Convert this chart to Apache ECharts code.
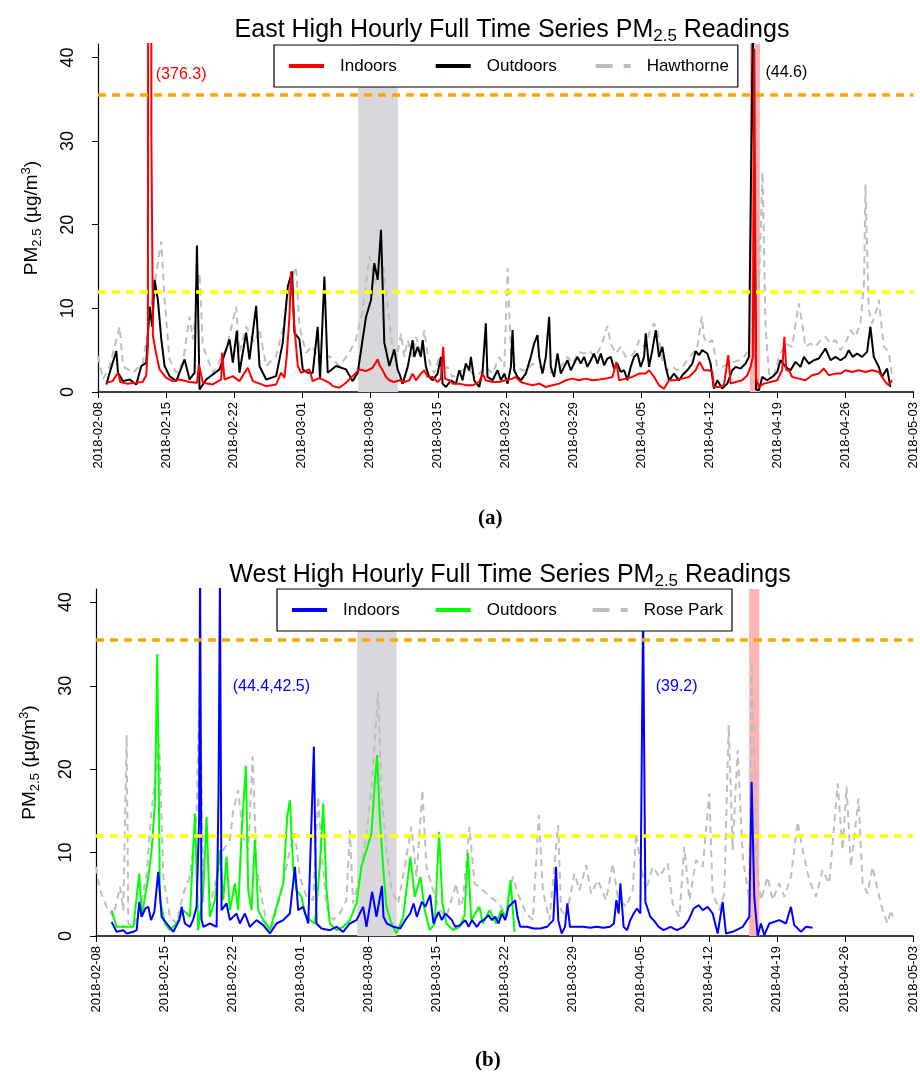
<!DOCTYPE html>
<html>
<head>
<meta charset="utf-8">
<title>PM2.5 hourly time series</title>
<script src="https://cdn.jsdelivr.net/npm/echarts@6.0.0/dist/echarts.min.js"></script>
<style>
  body { margin: 0; background: #fff; }
  #main { width: 920px; height: 1075px; }
</style>
</head>
<body>
<div id="main"></div>
<script>
// x = days since 2018-02-08 00:00, y = PM2.5 (ug/m3)
var dateLabels = ['2018-02-08','2018-02-15','2018-02-22','2018-03-01','2018-03-08','2018-03-15',
  '2018-03-22','2018-03-29','2018-04-05','2018-04-12','2018-04-19','2018-04-26','2018-05-03'];
var yTicks = [0, 10, 20, 30, 40];
var thresholds = [35.5, 12];
var grayWindowA = [26.8, 30.9], pinkWindowA = [67.15, 68.18];
var grayWindowB = [26.85, 30.9], pinkWindowB = [67.15, 68.2];

var eastIndoors = [[0.86,1.1],[1.5,1.3],[2.06,2.3],[2.3,1.2],[3.0,1.0],[3.9,1.1],[4.6,1.2],[4.97,2.0],[5.14,5.5],[5.35,376.3],[5.5,30],[5.66,6.7],[6.0,4.5],[6.34,2.7],[7.03,1.7],[7.72,1.3],[8.4,1.5],[9.4,1.2],[10.2,1.1],[10.39,3.3],[10.8,1.1],[11.83,0.9],[12.69,1.5],[12.79,4.7],[13.03,1.5],[13.89,1.9],[14.57,1.3],[15.43,2.9],[15.95,1.3],[17.32,0.7],[18.35,0.9],[18.86,2.3],[19.2,1.7],[19.44,4.3],[19.72,9.0],[19.89,14.4],[20.06,14.4],[20.23,7.8],[20.58,3.1],[20.92,2.3],[21.78,2.7],[22.12,1.3],[22.81,1.7],[23.83,1.1],[24.18,0.7],[24.86,0.5],[25.55,1.1],[26.23,1.9],[26.92,2.7],[27.61,2.5],[28.29,2.9],[28.81,3.9],
  [29.0,3.2],[29.32,2.6],[29.67,1.8],[30.01,1.4],[30.5,1.2],[31.04,1.4],[31.55,1.2],[32.07,1.4],[32.41,2.2],[32.75,1.4],[33.26,2.2],[33.61,2.6],[33.95,1.8],[34.47,1.8],[34.98,1.2],[35.32,1.6],[35.56,5.4],[35.73,1.6],[36.18,1.4],[36.52,1.0],[37.21,1.0],[37.89,0.8],[38.58,0.8],[39.27,1.2],[39.61,2.2],[39.95,1.4],[40.64,1.2],[41.33,1.2],[42.01,1.4],[42.7,1.6],[43.04,1.8],[43.55,1.2],[44.07,1.0],[44.75,0.8],[45.44,1.0],[46.13,0.6],[46.81,0.8],[47.5,1.0],[48.18,1.4],[48.87,1.6],[49.56,1.4],[50.24,1.6],[50.93,1.4],[51.62,1.5],[52.3,1.6],[52.99,1.8],[53.4,3.6],[53.67,1.4],[54.36,1.6],[55.04,1.8],[55.73,2.2],[56.42,2.2],
  [56.76,2.6],[57.28,1.8],[57.79,0.8],[58.3,0.4],[58.82,1.4],[59.51,1.4],[60.19,1.6],[60.87,1.8],[61.56,2.6],[61.97,3.6],[62.41,2.6],[62.93,2.6],[63.27,2.4],[63.44,0.6],[63.96,0.6],[64.47,0.8],[64.92,4.4],[65.16,1.0],[65.68,1.2],[66.36,1.4],[66.88,2.0],[67.22,3.0],[67.45,4.2],[67.6,41],[67.78,1.6],[68.08,0.6],[68.59,1.0],[69.28,1.2],[69.96,1.4],[70.47,2.6],[70.7,6.6],[70.9,2.6],[71.16,2.6],[71.5,1.8],[72.19,1.6],[72.87,1.4],[73.56,2.0],[74.25,2.2],[74.76,2.8],[75.28,2.0],[75.96,2.2],[76.48,2.2],[77.0,2.6],[77.68,2.4],[78.36,2.6],[79.05,2.4],[79.74,2.6],[80.42,2.4],[81.11,1.2],[81.45,0.8],[81.79,1.4]];

var eastOutdoors = [[0.86,0.9],[1.2,2.3],[1.89,4.9],[2.06,2.3],[2.57,1.3],[3.26,1.5],[3.94,0.9],[4.46,3.1],[4.97,3.5],[5.32,10.2],[5.59,7.8],[5.83,13.4],[6.17,11.0],[6.52,6.3],[6.86,3.1],[7.37,1.9],[8.06,1.3],[8.92,3.9],[9.43,1.5],[9.95,2.3],[10.19,17.5],[10.46,0.3],[11.15,1.5],[12.52,2.7],[13.55,6.3],[13.89,3.5],[14.3,7.3],[14.57,2.3],[15.26,7.1],[15.6,3.9],[16.29,10.3],[16.63,3.1],[17.32,1.5],[18.35,1.9],[19.03,5.9],[19.55,12.6],[19.99,14.4],[20.23,7.1],[20.75,6.3],[21.09,2.7],[21.6,2.3],[22.12,2.3],[22.63,7.8],[22.87,1.5],[23.32,13.8],[23.66,2.3],[24.52,3.1],[25.55,2.7],[26.23,1.3],[26.75,2.3],[27.26,6.3],[27.61,9.0],[28.12,11.0],[28.46,15.4],[28.81,13.4],[29.15,19.4],[29.49,5.9],[30.01,3.1],[30.52,5.1],[30.86,2.7],
  [31.04,2.2],[31.38,1.0],[31.9,3.0],[32.41,6.2],[32.58,4.2],[32.92,5.4],[33.26,4.2],[33.44,6.2],[33.78,3.0],[34.12,1.8],[34.47,1.4],[34.98,2.2],[35.32,4.2],[35.49,1.0],[35.84,0.6],[36.35,1.4],[36.87,1.0],[37.21,2.6],[37.55,1.4],[37.89,3.4],[38.24,2.6],[38.41,4.2],[38.75,1.4],[39.27,0.6],[39.61,2.4],[39.95,8.2],[40.12,1.8],[40.64,1.4],[41.16,2.6],[41.5,1.4],[41.85,2.2],[42.19,1.0],[42.53,3.0],[42.7,7.4],[42.87,2.6],[43.21,1.8],[43.55,1.4],[44.07,2.2],[44.58,4.2],[44.93,5.8],[45.27,6.8],[45.44,4.2],[45.78,2.2],[46.13,4.2],[46.47,9.0],[46.64,3.0],[46.98,1.8],[47.33,4.6],[47.67,2.2],[48.01,3.0],[48.36,3.8],[48.7,2.6],[49.04,3.4],[49.38,4.2],[49.73,3.4],[50.07,4.2],[50.41,3.0],[50.76,3.8],[51.1,4.6],[51.44,3.4],[51.79,4.6],[52.13,3.2],[52.47,4.0],[52.81,4.2],[53.16,2.8],[53.5,3.4],[53.84,2.4],[54.19,2.6],[54.53,1.4],[54.87,3.0],[55.22,4.2],[55.56,4.6],[55.9,3.0],[56.25,4.2],[56.42,7.0],
  [56.76,3.0],[57.1,5.0],[57.45,7.4],[57.79,4.2],[58.13,5.4],[58.48,3.0],[58.82,1.4],[59.33,2.2],[59.85,1.4],[60.19,2.0],[60.7,2.6],[61.22,3.4],[61.56,4.9],[61.9,4.4],[62.24,5.0],[62.76,4.6],[63.1,3.4],[63.44,0.4],[63.79,1.4],[64.3,0.4],[64.82,1.0],[65.33,2.6],[65.68,3.0],[66.19,2.8],[66.71,3.4],[67.05,4.2],[67.45,44.6],[67.79,0.3],[68.08,0.2],[68.42,1.8],[68.93,1.4],[69.45,1.8],[69.96,2.4],[70.3,3.8],[70.82,3.0],[71.33,2.6],[71.85,3.6],[72.36,3.0],[72.71,4.2],[73.22,3.4],[73.73,3.8],[74.25,4.0],[74.59,4.6],[74.93,5.2],[75.45,3.8],[75.96,4.2],[76.48,3.8],[76.99,4.2],[77.33,5.0],[77.74,4.2],[78.19,4.6],[78.7,4.2],[79.22,4.8],[79.56,7.8],[79.91,4.2],[80.42,3.0],[80.76,1.8],[81.28,2.8],[81.62,0.6]];

var hawthorne = [[0,4.3],[0.51,1.5],[1.2,3.1],[2.23,7.8],[2.57,3.1],[3.6,2.3],[4.63,3.5],[5.32,9.0],[6.0,14.2],[6.52,18.0],[6.86,11.0],[7.37,3.9],[8.06,2.3],[8.74,3.5],[9.43,9.0],[9.77,6.3],[10.46,14.2],[10.8,5.5],[11.83,2.3],[13.2,5.1],[14.23,10.2],[14.57,4.7],[15.26,7.8],[16.12,5.9],[16.63,7.5],[17.32,3.1],[18.35,4.3],[19.03,7.5],[19.72,13.0],[20.4,15.0],[20.75,7.8],[21.43,4.7],[22.12,5.5],[22.81,3.5],[23.83,4.3],[24.86,3.1],[25.89,4.7],[26.58,6.3],[27.26,9.8],[27.95,16.2],[28.64,13.0],[29.32,15.8],[29.84,10.2],[30.35,5.1],[30.8,4.3],
  [31.21,7.0],[31.55,4.2],[31.9,6.2],[32.41,4.2],[32.75,6.6],[33.26,4.6],[33.61,7.4],[33.95,4.6],[34.3,3.0],[34.64,2.2],[35.15,4.2],[35.49,2.6],[36.0,3.0],[36.52,1.8],[37.21,2.2],[37.89,3.0],[38.58,2.2],[39.27,2.2],[39.95,3.0],[40.64,2.2],[41.33,4.2],[41.85,3.0],[42.2,14.8],[42.53,4.2],[43.04,3.0],[43.73,2.6],[44.24,2.6],[44.75,3.4],[45.44,3.0],[46.13,2.6],[46.81,2.2],[47.67,3.0],[48.36,4.2],[48.87,3.4],[49.56,4.8],[50.07,4.6],[50.59,5.0],[51.1,4.2],[51.62,5.0],[52.04,6.2],[52.47,7.9],[52.81,5.8],[53.33,4.6],[53.84,5.4],[54.36,4.2],[54.87,4.2],[55.39,5.0],[55.73,6.2],[56.25,5.4],[56.59,6.2],
  [56.76,7.0],[57.28,8.2],[57.62,7.4],[58.13,3.8],[58.65,2.6],[59.16,3.0],[59.68,2.6],[60.19,3.0],[60.7,3.8],[61.22,4.6],[61.73,5.4],[62.2,9.0],[62.41,6.6],[62.76,5.8],[63.27,6.2],[63.79,3.0],[64.3,3.0],[64.99,3.4],[65.5,3.6],[66.02,3.8],[66.53,4.2],[67.05,5.0],[67.38,8],[67.7,40],[68.06,12],[68.45,26.3],[68.75,8],[69.11,2.2],[69.62,1.8],[70.13,4.2],[70.82,5.8],[71.5,5.4],[72.19,10.6],[72.53,8.2],[72.87,5.4],[73.39,5.8],[73.9,5.4],[74.42,6.2],[74.93,6.6],[75.45,5.8],[75.96,6.2],[76.48,5.0],[76.99,5.8],[77.51,7.4],[78.02,6.6],[78.53,8.2],[78.9,13],[79.05,24.8],[79.39,9.8],[79.74,8.2],[80.25,10.0],[80.42,11.0],[80.94,5.4],[81.45,4.8],[81.79,2.0]];

var westIndoors = [[1.61,1.7],[2.12,0.5],[2.81,0.7],[3.15,0.3],[3.84,0.5],[4.18,0.7],[4.45,4.1],[4.69,2.3],[5.07,3.3],[5.38,3.5],[5.66,1.9],[6.0,2.9],[6.4,7.7],[6.75,2.3],[7.26,1.5],[7.95,0.5],[8.57,1.9],[8.8,3.5],[9.14,1.5],[9.66,1.1],[10.0,2.0],[10.34,3.5],[10.6,14],[10.7,44.4],[10.85,2],[11.03,1.1],[11.71,1.5],[12.4,1.1],[12.6,17.3],[12.74,42.5],[12.91,3.1],[13.42,3.9],[13.77,1.9],[14.45,2.7],[14.79,1.5],[15.31,2.7],[15.82,1.1],[16.51,1.9],[17.19,1.3],[17.88,0.3],[18.56,1.5],[19.25,1.9],[19.93,2.7],[20.45,8.3],[20.79,3.1],[21.3,3.5],[21.82,1.5],[22.4,22.7],[22.67,1.5],[23.18,0.9],[24.04,0.7],[24.73,1.1],[25.41,0.5],[26.1,1.5],[26.78,1.9],[27.47,3.5],[27.81,1.1],[28.39,5.3],[28.84,2.3],
  [29.4,6.0],[29.56,2.3],[29.9,1.5],[30.59,1.1],[31.28,0.9],[31.79,1.9],[32.3,2.7],[32.65,3.9],[32.99,2.3],[33.5,4.1],[33.85,3.5],[34.36,4.9],[34.7,1.5],[35.22,2.9],[35.56,1.9],[35.9,2.7],[36.25,2.3],[36.59,1.9],[36.93,1.1],[37.45,1.3],[37.96,1.9],[38.31,1.1],[38.65,1.9],[39.16,1.1],[39.51,1.7],[39.85,1.9],[40.36,2.5],[40.7,1.9],[41.05,2.3],[41.39,1.5],[41.73,2.7],[42.07,1.9],[42.42,3.5],[42.76,3.9],[43.1,4.3],[43.34,2.3],[43.62,1.1],[44.31,1.1],[44.99,0.9],[45.68,0.9],[46.37,1.1],[47.02,1.9],[47.3,8.3],[47.53,1.9],[47.88,0.3],[48.22,1.1],[48.46,3.9],[48.73,1.1],[49.42,1.1],[50.1,1.1],[50.79,1.0],[51.48,1.1],[52.16,1.0],[52.85,1.1],[53.25,1.5],[53.5,4.3],[53.74,2.7],[53.91,6.3],[54.25,1.1],[54.6,0.7],[54.94,1.9],[55.28,2.7],[55.62,3.3],[55.97,2.7],[56.25,39.2],[56.48,4.1],[56.65,3.5],[56.99,2.3],[57.33,1.9],[57.85,1.1],[58.36,0.7],[59.05,1.1],[59.73,0.7],[60.42,1.1],[60.93,1.9],[61.45,3.3],[61.97,3.7],
  [62.38,3.1],[62.89,3.5],[63.4,2.7],[63.92,0.3],[64.43,4.1],[64.77,0.3],[65.46,0.5],[66.49,1.1],[67.17,2.3],[67.41,18.5],[67.68,4.7],[68.03,0],[68.37,1.5],[68.71,0.1],[69.23,1.5],[70.25,1.9],[70.94,1.5],[71.45,3.5],[71.79,1.3],[72.48,0.5],[72.99,1.1],[73.68,1.0]];

var westOutdoors = [[1.61,3.1],[2.12,1.1],[3.15,1.1],[3.84,1.1],[4.45,7.5],[4.69,2.3],[5.38,7.1],[5.72,10.3],[6.06,16],[6.3,33.8],[6.58,4.3],[7.09,1.5],[7.6,0.7],[8.29,1.5],[8.97,3.1],[9.66,2.3],[10.17,14.7],[10.51,0.7],[11.03,5.5],[11.37,14.3],[11.71,2.3],[12.23,4.3],[12.74,10.3],[13.08,4.3],[13.42,9.5],[13.77,3.1],[14.28,6.3],[14.62,3.1],[14.97,12.3],[15.41,20.4],[15.65,5.5],[15.99,3.1],[16.34,11.5],[16.68,3.1],[17.19,1.9],[17.88,0.7],[18.56,3.5],[19.25,6.3],[19.66,14.3],[19.93,16.3],[20.27,8.3],[20.62,5.5],[21.13,4.7],[21.47,2.7],[21.99,1.9],[22.5,1.5],[23.01,8.3],[23.36,15.9],[23.7,5.5],[24.04,1.5],[24.73,0.7],[25.41,1.1],[26.1,1.9],[26.78,3.9],[27.29,8.3],[27.81,10.3],[28.32,12.3],[28.66,18.3],[28.9,21.7],[29.18,14.3],[29.52,8.3],[29.86,3.5],[30.38,1.5],[30.89,0.3],[31.58,2.3],[32.33,9.5],[32.77,4.7],[33.36,7.1],[33.8,3.1],[34.32,0.7],[34.83,1.5],[35.27,12.5],[35.62,3.9],[36.03,1.5],[36.71,0.7],[37.4,1.1],
  [37.89,2.5],[38.23,10.0],[38.58,1.9],[39.43,3.5],[39.77,1.5],[40.46,3.1],[41.14,1.5],[41.66,3.1],[42.17,2.3],[42.62,6.7],[43.03,0.5]];

var rosePark = [[0,8.3],[0.41,5.5],[1.1,3.5],[1.78,2.3],[2.47,5.9],[2.81,3.1],[3.15,24.1],[3.32,1.5],[3.84,1.1],[4.52,3.1],[5.21,7.5],[5.72,15.1],[6.5,23],[6.92,7.1],[7.6,2.3],[8.29,1.5],[8.97,5.1],[9.66,7.1],[10.34,14.3],[10.68,31.5],[11.03,4.3],[11.71,3.5],[12.4,7.1],[13.08,10.3],[13.77,11.5],[14.11,15.1],[14.62,17.5],[15.14,11.9],[15.65,10.3],[16.1,21.5],[16.51,8.3],[17.02,4.7],[17.53,1.5],[18.05,0.7],[18.56,3.1],[19.25,6.3],[19.93,10.3],[20.45,12.3],[20.96,7.1],[21.64,4.7],[22.33,4.3],[22.84,16.7],[23.18,10.3],[23.7,3.5],[24.38,1.9],[25.07,2.7],[25.75,4.3],[26.1,12.7],[26.44,3.9],[27.12,7.1],[27.81,12.3],[28.32,17.5],[29.0,29.3],[29.35,17.1],[29.86,10.3],[30.38,5.5],[31.06,3.9],[31.75,8.3],[32.43,13.1],[32.95,7.1],[33.56,17.5],[33.97,8.3],[34.66,5.5],[35.34,3.1],[36.03,2.3],[37.05,6.3],[37.4,3.5],
  [37.72,4.3],[38.4,13.1],[38.92,6.3],[39.77,5.5],[40.46,4.7],[41.49,3.9],[42.17,2.3],[42.86,7.1],[43.37,5.1],[44.23,2.7],[44.91,1.9],[45.53,14.5],[45.94,5.5],[46.62,1.9],[47.51,13.3],[47.82,3.1],[48.34,2.3],[49.19,7.5],[49.71,5.5],[50.39,8.5],[50.9,5.1],[51.59,6.7],[52.45,4.3],[53.13,8.7],[53.64,4.7],[54.5,3.5],[55.18,5.5],[55.53,12.3],[56.04,8.3],[56.55,5.5],[57.24,8.3],[57.92,7.1],[58.78,8.7],[59.29,3.9],[59.98,2.3],[60.49,10.7],[61.01,4.3],[61.69,9.1],[62.38,8.3],[63.06,17.1],[63.4,5.1],[64.09,3.1],[64.6,5.1],[65.05,25.3],[65.46,10.3],[65.97,22.3],[66.49,9.5],[67.17,4.3],[67.4,32.9],[68.03,7.1],[68.37,4.3],[69.05,7.1],[69.57,4.3],[70.25,6.3],[70.77,4.7],[71.45,7.1],[72.14,13.7],[72.65,10.3],[73.34,6.7],[74.02,4.7],[74.71,7.9],[75.39,6.3],[76.25,18.3],[76.76,10.3],[77.17,17.9],[77.62,8.3],[78.4,16.5],[78.82,6.3],[79.33,5.1],[79.84,8.3],[80.36,5.5],[80.87,3.1],[81.38,1.5],[81.73,3.1],[81.9,2.3]];

// off-scale peak labels: [day, value, text, colour]
var notesA = [[5.9, 38.0, '(376.3)', '#ff0000'], [68.7, 38.2, '(44.6)', '#000000']];
var notesB = [[14.0, 29.9, '(44.4,42.5)', '#0000ff'], [57.5, 29.9, '(39.2)', '#0000ff']];

var font = 'Liberation Sans, Arial, Helvetica, sans-serif';
var solidIcon = 'path://M0,0h35v4h-35z';
var dashIcon = 'path://M0,0h17v4h-17z M28,0h7v4h-7z';
var chart = echarts.init(document.getElementById('main'));

function xAxisFor(gi) {
    return {
        gridIndex: gi, type: 'value', min: 0, max: 84, interval: 7,
        axisLine: { show: true, onZero: false, lineStyle: { color: '#000', width: 1.5 } },
        axisTick: { show: true, length: 6, lineStyle: { color: '#000' } },
        axisLabel: {
            rotate: 90, margin: 10, fontSize: 13, color: '#000', fontFamily: font,
            showMinLabel: true, showMaxLabel: true,
            formatter: function (v) { return dateLabels[Math.round(v / 7)]; }
        },
        splitLine: { show: false }
    };
}

function yAxisFor(gi) {
    return {
        gridIndex: gi, type: 'value', min: 0, max: 41.6,
        axisLine: { show: true, lineStyle: { color: '#000', width: 1.2 } },
        axisTick: { show: true, length: 6, customValues: yTicks, lineStyle: { color: '#000' } },
        axisLabel: { customValues: yTicks, rotate: 90, margin: 21, fontSize: 18, color: '#000', fontFamily: font },
        splitLine: { show: false },
        name: '{a|PM}{s|2.5}{a| (µg/m}{p|3}{a|)}',
        nameLocation: 'middle', nameRotate: 90, nameGap: 54,
        nameTextStyle: {
            color: '#000', fontFamily: font,
            rich: {
                a: { fontSize: 19, lineHeight: 24, fontFamily: font, color: '#000' },
                s: { fontSize: 13, lineHeight: 14, verticalAlign: 'bottom', fontFamily: font, color: '#000' },
                p: { fontSize: 13, lineHeight: 14, verticalAlign: 'top', fontFamily: font, color: '#000' }
            }
        }
    };
}

function lineSeries(name, data, color, gi, extra) {
    var s = {
        name: name, type: 'line', xAxisIndex: gi, yAxisIndex: gi, data: data,
        symbol: 'none', showSymbol: false, smooth: false, animation: false,
        lineStyle: { color: color, width: 2 }, itemStyle: { color: color }, z: 2
    };
    for (var k in extra) s[k] = extra[k];
    return s;
}

function shadeAndLimits(grayW, pinkW) {
    return {
        markArea: {
            silent: true,
            data: [
                [{ xAxis: grayW[0], itemStyle: { color: '#d9d6dc' } }, { xAxis: grayW[1] }],
                [{ xAxis: pinkW[0], itemStyle: { color: '#ffb4b4' } }, { xAxis: pinkW[1] }]
            ]
        },
        markLine: {
            silent: true, symbol: 'none', label: { show: false }, animation: false,
            data: [
                { yAxis: thresholds[0], lineStyle: { color: '#ffa500', width: 3.5, type: [8, 6] } },
                { yAxis: thresholds[1], lineStyle: { color: '#ffff00', width: 3.5, type: [8, 6] } }
            ]
        }
    };
}

function notes(list) {
    return {
        silent: true, symbol: 'circle', symbolSize: 1, itemStyle: { color: 'rgba(0,0,0,0)' },
        data: list.map(function (n) {
            return { name: n[2], coord: [n[0], n[1]], label: { color: n[3] } };
        }),
        label: { show: true, position: 'right', distance: 0, formatter: '{b}', fontSize: 16, fontFamily: font }
    };
}

var grayA = lineSeries('Hawthorne', hawthorne, '#bebebe', 0, shadeAndLimits(grayWindowA, pinkWindowA));
grayA.lineStyle.type = [7, 5];
var grayB = lineSeries('Rose Park', rosePark, '#bebebe', 1, shadeAndLimits(grayWindowB, pinkWindowB));
grayB.lineStyle.type = [7, 5];

var titleRich = {
    t: { fontSize: 25, lineHeight: 30, fontWeight: 'normal', fontFamily: font, color: '#000' },
    s: { fontSize: 17, lineHeight: 18, verticalAlign: 'bottom', fontWeight: 'normal', fontFamily: font, color: '#000' }
};

function legendFor(names, left, top, gap) {
    return {
        data: [
            { name: names[0], icon: solidIcon },
            { name: names[1], icon: solidIcon },
            { name: names[2], icon: dashIcon }
        ],
        left: left, top: top, orient: 'horizontal',
        itemWidth: 35, itemHeight: 4, itemGap: gap,
        padding: [11, 9, 11, 15], borderColor: '#000', borderWidth: 1.2, borderRadius: 0,
        backgroundColor: '#fff', selectedMode: false,
        itemStyle: { borderWidth: 0 },
        lineStyle: { width: 0 },
        textStyle: { fontSize: 17, lineHeight: 20, color: '#000', fontFamily: font, padding: [0, 0, 0, 11] },
        formatter: function (name) { return name.replace(/^(East|West) /, ''); }
    };
}

var option = {
    animation: false,
    backgroundColor: '#fff',
    title: [
        { text: '{t|East High Hourly Full Time Series PM}{s|2.5}{t| Readings}', left: 507, top: 10, textAlign: 'center',
          textStyle: { fontWeight: 'normal', rich: titleRich } },
        { text: '{t|West High Hourly Full Time Series PM}{s|2.5}{t| Readings}', left: 505, top: 555, textAlign: 'center',
          textStyle: { fontWeight: 'normal', rich: titleRich } }
    ],
    legend: [
        legendFor(['East Indoors', 'East Outdoors', 'Hawthorne'], 274, 45, 39),
        legendFor(['West Indoors', 'West Outdoors', 'Rose Park'], 277, 589, 36)
    ],
    grid: [
        { left: 98, top: 44, width: 817, height: 348, containLabel: false },
        { left: 96, top: 589, width: 817, height: 347, containLabel: false }
    ],
    xAxis: [xAxisFor(0), xAxisFor(1)],
    yAxis: [yAxisFor(0), yAxisFor(1)],
    graphic: [
        { type: 'text', left: 478, top: 508, style: { text: '(a)', font: 'bold 21px "Liberation Serif", "DejaVu Serif", serif', fill: '#000' } },
        { type: 'text', left: 475, top: 1050, style: { text: '(b)', font: 'bold 21px "Liberation Serif", "DejaVu Serif", serif', fill: '#000' } }
    ],
    series: [
        grayA,
        lineSeries('East Outdoors', eastOutdoors, '#000000', 0, { markPoint: notes(notesA.slice(1)) }),
        lineSeries('East Indoors', eastIndoors, '#ff0000', 0, { markPoint: notes(notesA.slice(0, 1)) }),
        grayB,
        lineSeries('West Outdoors', westOutdoors, '#00ff00', 1),
        lineSeries('West Indoors', westIndoors, '#0000ff', 1, { markPoint: notes(notesB) })
    ]
};

chart.setOption(option);
</script>
</body>
</html>
